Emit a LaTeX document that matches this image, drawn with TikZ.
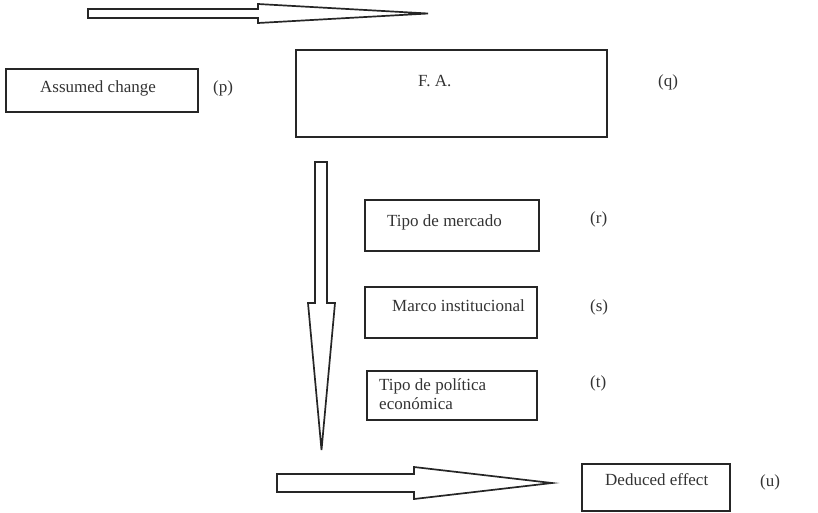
\documentclass[tikz,border=0pt]{standalone}
\usepackage{fontspec}
\setmainfont{Liberation Serif}

\tikzset{
  box/.style={draw=black!85, line width=2pt, inner sep=0pt},
  txt/.style={inner sep=0pt, anchor=base west, text=black!80, font=\fontsize{17}{19}\selectfont},
  fatarrow/.style={draw=black!85, line width=1.7pt}
}

\begin{document}
\begin{tikzpicture}[x=1pt,y=-1pt]
  \useasboundingbox (0,0) rectangle (818,512);
  % boxes
  \node[box, minimum width=192pt, minimum height=43pt] (change) at (102,90.5) {};
  \node[box, minimum width=311pt, minimum height=87pt] (fa) at (451.5,93.5) {};
  \node[box, minimum width=174pt, minimum height=51pt] (market) at (452,225.5) {};
  \node[box, minimum width=172pt, minimum height=51pt] (frame) at (451,312.5) {};
  \node[box, minimum width=170pt, minimum height=49pt] (policy) at (452,395.5) {};
  \node[box, minimum width=148pt, minimum height=47pt] (effect) at (656,487.5) {};
  % texts
  \node[txt] (changetxt) at (40,92) {Assumed change};
  \node[txt] (fatxt) at (418,86.7) {F. A.};
  \node[txt] (markettxt) at (387,226) {Tipo de mercado};
  \node[txt] (frametxt) at (392,311.7) {Marco institucional};
  \node[txt, align=left] (policytxt) at (379,409) {Tipo de política\\económica};
  \node[txt] (effecttxt) at (605,485) {Deduced effect};
  % letters
  \node[txt] (p) at (213,92.7) {(p)};
  \node[txt] (q) at (658,86.7) {(q)};
  \node[txt] (r) at (590,223) {(r)};
  \node[txt] (s) at (590,311.7) {(s)};
  \node[txt] (t) at (590,387) {(t)};
  \node[txt] (u) at (760,486) {(u)};
  % block arrows
  \draw[fatarrow] (88,9) -- (258,9) -- (258,4) -- (428,13.5) -- (258,23) -- (258,18) -- (88,18) -- cycle;
  \draw[fatarrow] (315,162) -- (327,162) -- (327,303) -- (335,303) -- (321.5,450) -- (308,303) -- (315,303) -- cycle;
  \draw[fatarrow] (277,474) -- (414,474) -- (414,467) -- (552,483) -- (414,499) -- (414,492) -- (277,492) -- cycle;
\end{tikzpicture}
\end{document}
